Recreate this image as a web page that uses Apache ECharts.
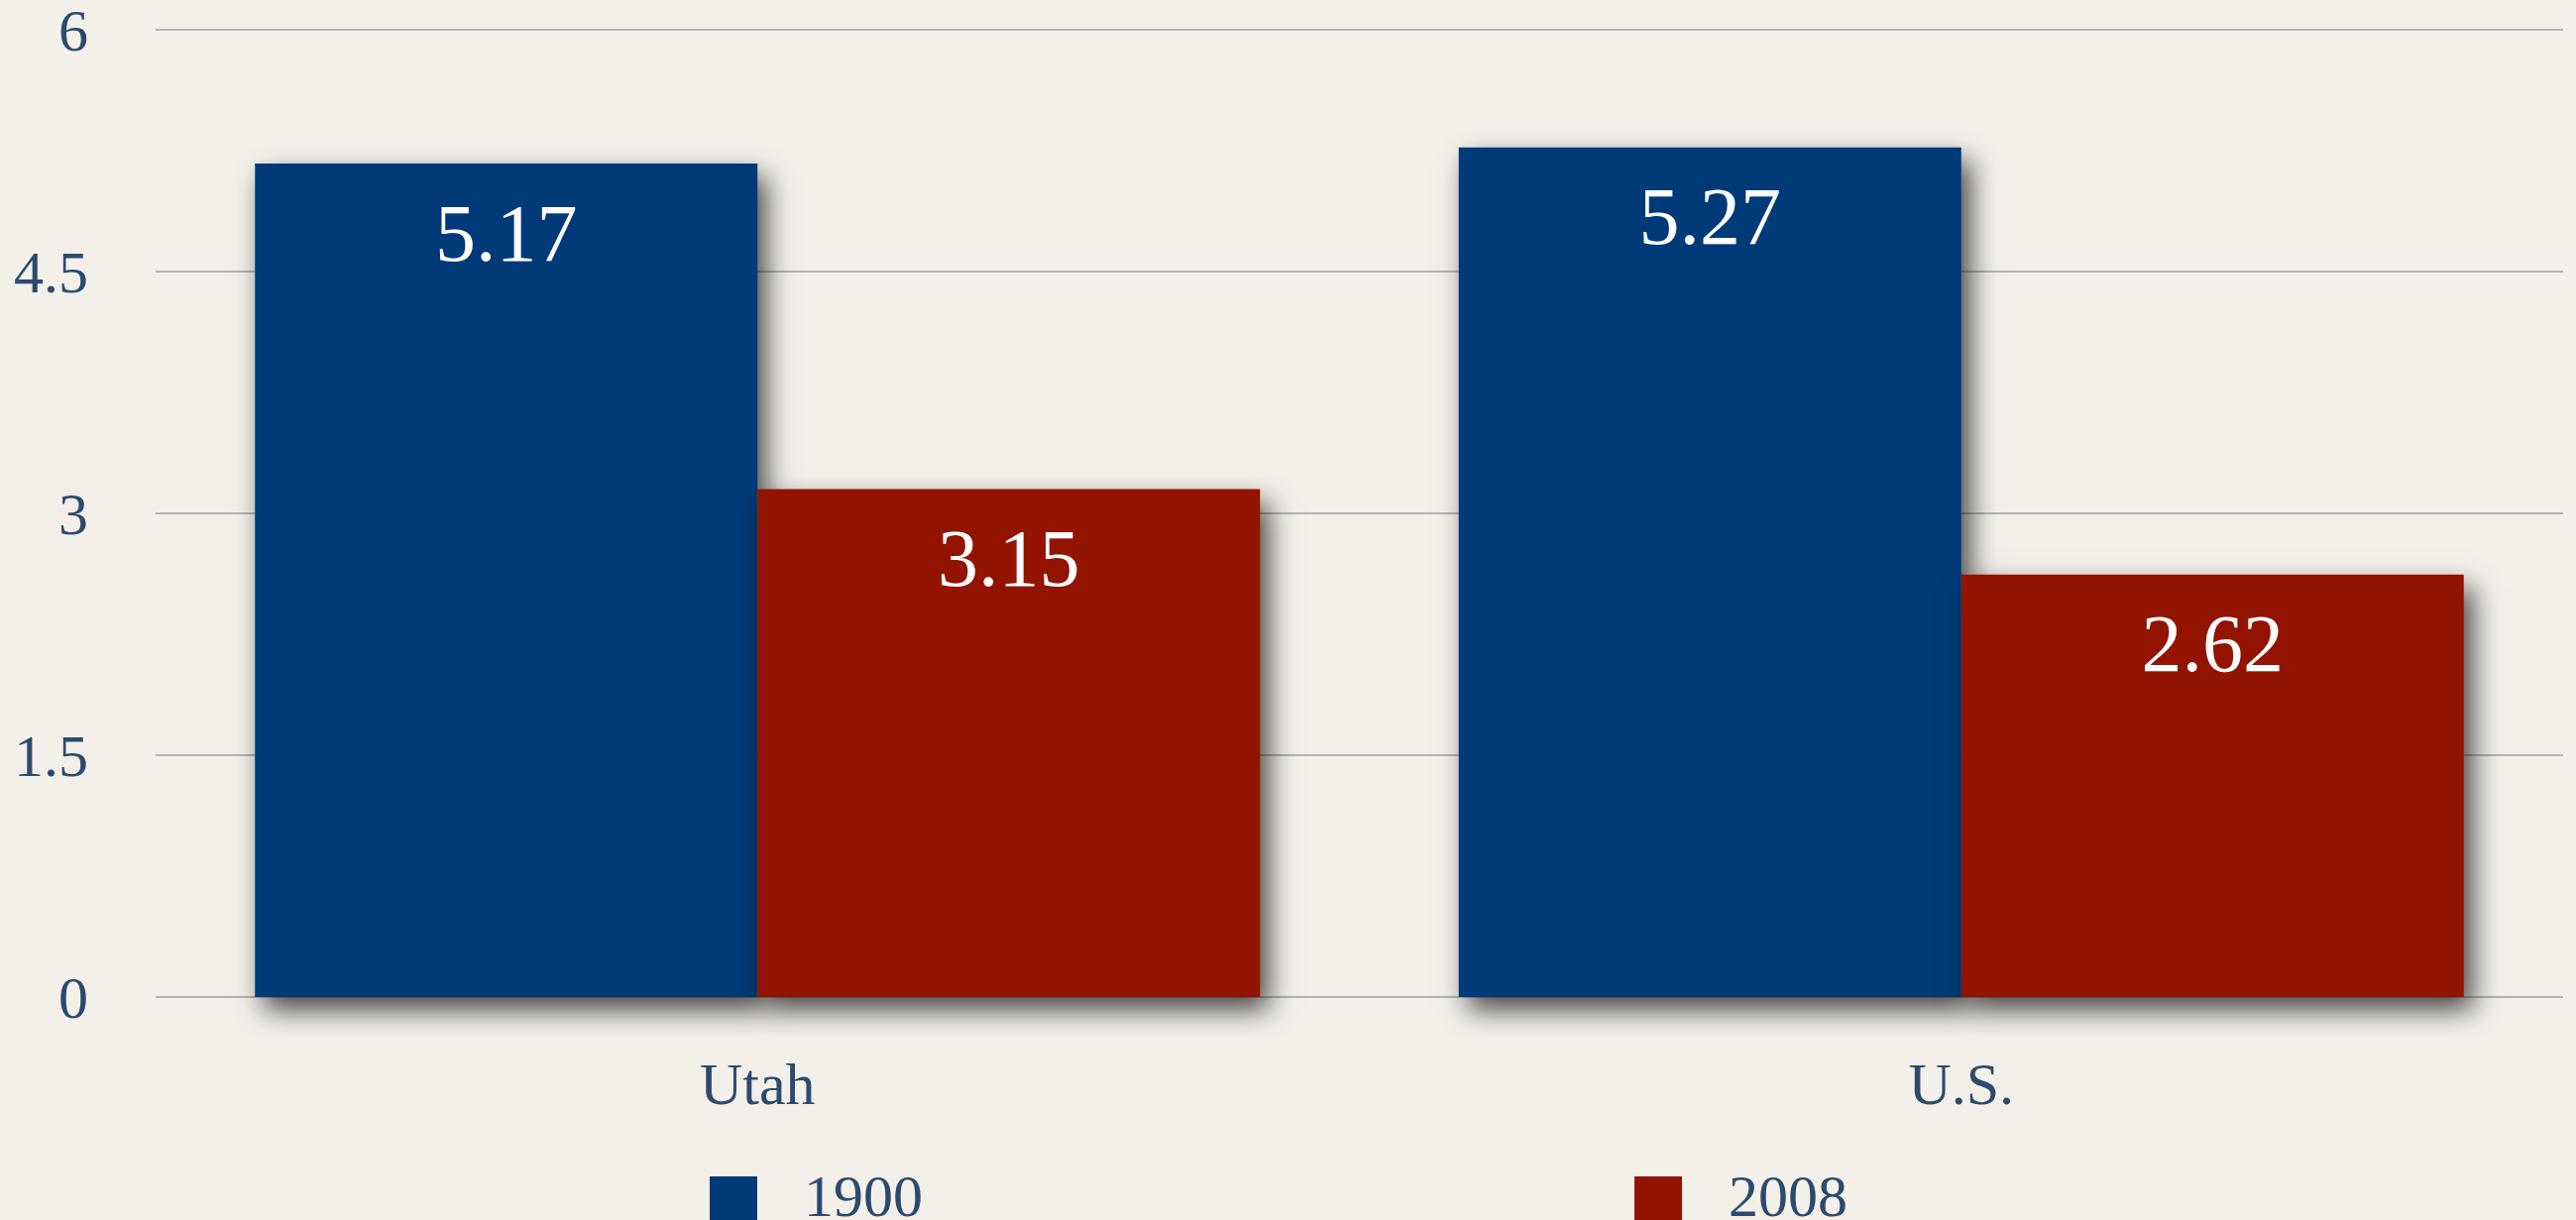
<!DOCTYPE html>
<html>
<head>
<meta charset="utf-8">
<style>
html,body{margin:0;padding:0;background:#f3f0ea;}
#chart{width:2599px;height:1231px;}
</style>
<script src="https://cdn.jsdelivr.net/npm/echarts@6/dist/echarts.min.js"></script>
</head>
<body>
<div id="chart"></div>
<script>
var categories = ['Utah', 'U.S.'];
var seriesNames = ['1900', '2008'];
var values1900 = [5.17, 5.27];
var values2008 = [3.15, 2.62];
var yTicks = [0, 1.5, 3, 4.5, 6];

var FONT = '"Liberation Serif", "DejaVu Serif", serif';
var TXT = '#2c4a6e';
var BLUE = '#003a78';
var RED = '#921400';

var chart = echarts.init(document.getElementById('chart'));
function barSeries(name, data, color) {
  return {
    name: name,
    type: 'bar',
    data: data,
    barWidth: 507,
    barGap: '0%',
    itemStyle: {
      color: color,
      shadowColor: 'rgba(0,0,0,0.7)',
      shadowBlur: 26,
      shadowOffsetX: 9,
      shadowOffsetY: 13
    },
    label: {
      show: true,
      position: 'insideTop',
      distance: 35,
      color: '#ffffff',
      fontFamily: FONT,
      fontSize: 82,
      lineHeight: 82,
      formatter: function (p) { return p.value.toFixed(2); }
    }
  };
}
function legendFor(name, left) {
  return {
    data: [name], left: left, top: 1181, padding: 0, itemWidth: 48, itemHeight: 48,
    icon: 'rect', itemStyle: { shadowBlur: 0, shadowOffsetX: 0, shadowOffsetY: 0 },
    textStyle: { fontFamily: FONT, fontSize: 60, color: TXT, padding: [0, 0, 0, 42] }
  };
}
chart.setOption({
  backgroundColor: '#f3f0ea',
  animation: false,
  grid: { left: 157, right: 13, top: 30, bottom: 225, containLabel: false, outerBoundsMode: 'none' },
  legend: [legendFor(seriesNames[0], 716), legendFor(seriesNames[1], 1649)],
  xAxis: {
    type: 'category',
    data: categories,
    axisLine: { show: false },
    axisTick: { show: false },
    axisLabel: { fontFamily: FONT, fontSize: 60, lineHeight: 60, color: TXT, margin: 62 }
  },
  yAxis: {
    type: 'value',
    min: yTicks[0],
    max: yTicks[yTicks.length - 1],
    interval: yTicks[1] - yTicks[0],
    axisLine: { show: false },
    axisTick: { show: false },
    splitLine: { lineStyle: { color: '#b3b3b3', width: 2 } },
    axisLabel: {
      fontFamily: FONT, fontSize: 60, color: TXT, margin: 68,
      formatter: function (v) { return '{t|' + v + '}'; },
      rich: {
        t: { fontFamily: FONT, fontSize: 60, color: TXT, lineHeight: 60, padding: [10, 0, 0, 0] }
      }
    }
  },
  series: [
    barSeries(seriesNames[0], values1900, BLUE),
    barSeries(seriesNames[1], values2008, RED)
  ]
});
</script>
</body>
</html>
